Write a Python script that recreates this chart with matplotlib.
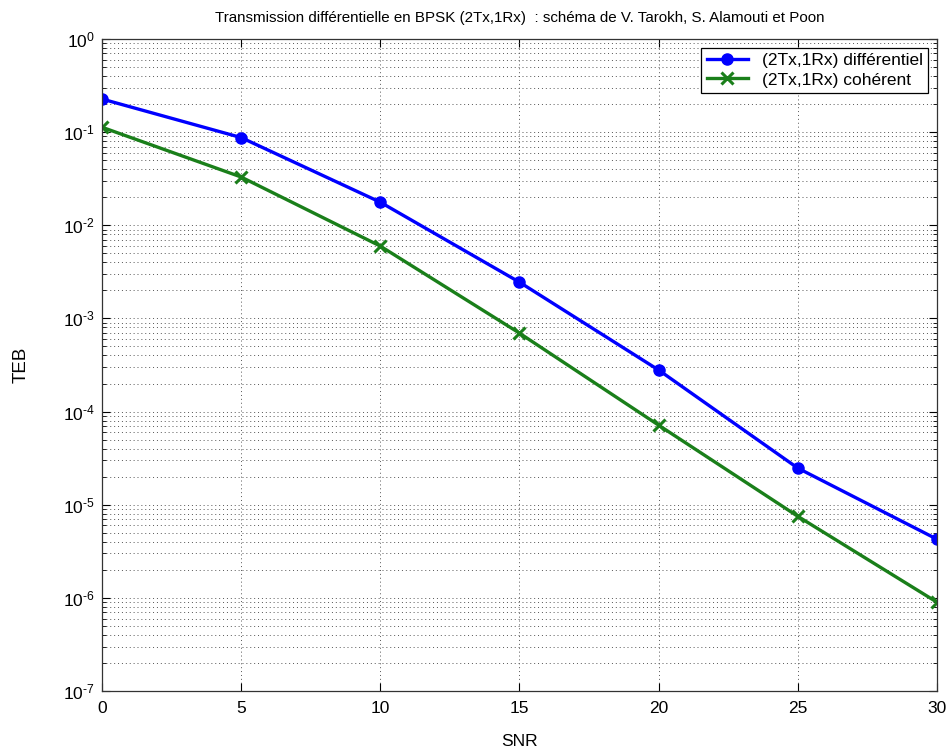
import matplotlib
matplotlib.use("Agg")
import numpy as np
import matplotlib.pyplot as plt
from matplotlib.ticker import LogLocator, FixedLocator, NullFormatter, FuncFormatter

snr = [0, 5, 10, 15, 20, 25, 30]
teb_diff = [0.227, 0.0875, 0.0177, 0.00245, 0.000279, 2.47e-5, 4.26e-6]
teb_coh = [0.113, 0.033, 0.00598, 0.000695, 7.14e-5, 7.5e-6, 8.97e-7]
xticks = [0, 5, 10, 15, 20, 25, 30]
yticks = [1e-7, 1e-6, 1e-5, 1e-4, 1e-3, 1e-2, 1e-1, 1e0]

plt.rcParams['font.family'] = ['Liberation Sans', 'DejaVu Sans']
plt.rcParams['mathtext.fontset'] = 'custom'
plt.rcParams['mathtext.rm'] = 'Liberation Sans'
plt.rcParams['mathtext.it'] = 'Liberation Sans'

fig = plt.figure(figsize=(9.46, 7.55), dpi=100)
ax = fig.add_axes([0.1078, 0.0848, 0.9905 - 0.1078, 0.9483 - 0.0848])

ax.semilogy(snr, teb_diff, color='#0000ff', lw=2.4, marker='o', ms=8,
            mec='#0000ff', mfc='#0000ff', label='(2Tx,1Rx) différentiel')
ax.semilogy(snr, teb_coh, color='#1a7f1a', lw=2.4, marker='x', ms=8, mew=2.2,
            mec='#1a7f1a', label='(2Tx,1Rx) cohérent')

ax.set_xlim(0, 30)
ax.set_ylim(1e-7, 1)
ax.xaxis.set_major_locator(FixedLocator(xticks))
ax.yaxis.set_major_locator(FixedLocator(yticks))
ax.yaxis.set_minor_locator(LogLocator(base=10, subs=range(2, 10), numticks=20))
ax.yaxis.set_minor_formatter(NullFormatter())


def fmt(v, _):
    e = int(round(np.log10(v)))
    if e < 0:
        return r'$10^{\text{-}%d}$' % (-e)
    return r'$10^{%d}$' % e


ax.yaxis.set_major_formatter(FuncFormatter(fmt))

grid_kw = dict(color='#555555', linestyle=(0, (1, 3)), linewidth=0.7)
ax.grid(True, which='major', axis='x', **grid_kw)
ax.grid(True, which='both', axis='y', **grid_kw)

ax.tick_params(which='both', direction='in', top=True, right=True, labelsize=12.5)
ax.tick_params(axis='x', which='major', pad=7)
ax.tick_params(axis='y', which='major', pad=5)
ax.tick_params(which='major', length=6)
ax.tick_params(which='minor', length=3)
for s in ax.spines.values():
    s.set_color('#333333')
    s.set_linewidth(0.9)

ax.set_title('Transmission différentielle en BPSK (2Tx,1Rx)  : schéma de V. Tarokh, S. Alamouti et Poon',
             fontsize=10.9, pad=12)
ax.set_xlabel('SNR', fontsize=12.5, labelpad=13)
ax.set_ylabel('TEB', fontsize=13.5, labelpad=24)

leg = ax.legend(loc='upper right', fontsize=12.5, fancybox=False, framealpha=1,
                edgecolor='black', borderaxespad=0.5, handlelength=2.4,
                handletextpad=0.8, labelspacing=0.25, borderpad=0.3)
leg.get_frame().set_linewidth(0.9)

fig.savefig('out.png', dpi=100)
